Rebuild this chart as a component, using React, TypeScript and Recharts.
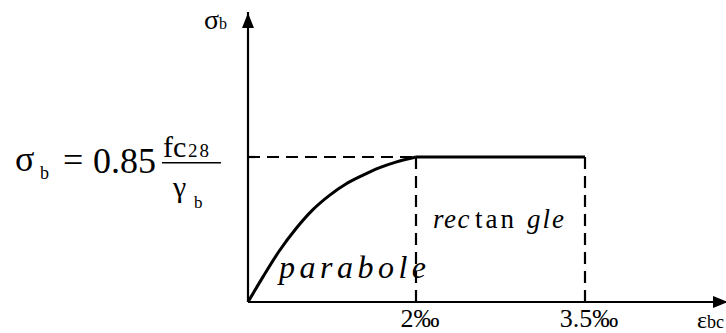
import React from 'react';
import { ComposedChart, Line, XAxis, YAxis } from 'recharts';

// Parabola-rectangle stress–strain diagram for concrete (BAEL)
// strain in ‰, stress as a fraction of 0.85·fc28/γb

const parabolaStrain = [0, 0.18, 0.37, 0.57, 0.77, 0.97, 1.17, 1.37, 1.56, 1.76, 2.0];
const parabolaStress = [0, 0.175, 0.35, 0.505, 0.635, 0.735, 0.815, 0.875, 0.925, 0.965, 1.0];

const plateauStrain = [2, 3.5];
const plateauStress = [1, 1];

const strainTicks = [2, 3.5];
const tickLabels = ['2‰', '3.5‰'];

const W = 726;
const H = 333;
const LEFT = 248;
const TOP = 12;
const XAXIS_H = 31;
const AXIS_Y = H - XAXIS_H;
const SERIF = 'Liberation Serif, Tinos, DejaVu Serif, Times New Roman, serif';

const parabolaData = parabolaStrain.map((e, i) => ({ e, s: parabolaStress[i] }));
const plateauData = plateauStrain.map((e, i) => ({ e, s: plateauStress[i] }));
const peakStrain = plateauStrain[0];
const ultimateStrain = plateauStrain[plateauStrain.length - 1];
const peakStress = plateauStress[0];

const peakGuideH = [{ e: 0, s: peakStress }, { e: peakStrain, s: peakStress }];
const peakGuideV = [{ e: peakStrain, s: peakStress }, { e: peakStrain, s: 0 }];
const ultimateGuideV = [{ e: ultimateStrain, s: peakStress }, { e: ultimateStrain, s: 0 }];

const serifStyle = { fontFamily: SERIF };

const StrainTick = (props: any) => {
  const { x, y, payload } = props;
  const idx = strainTicks.indexOf(payload.value);
  return (
    <text x={x + 4} y={y + 25} textAnchor="middle" style={serifStyle} fontSize={26} fill="#000">
      {tickLabels[idx]}
    </text>
  );
};

export default function App() {
  return (
    <div style={{ position: 'absolute', left: 0, top: 0, width: W, height: H, background: '#fff', fontFamily: SERIF }}>
      <ComposedChart width={W} height={H} margin={{ top: TOP, right: 0, bottom: 0, left: LEFT - 2 }}>
        <XAxis
          xAxisId="p"
          type="number"
          dataKey="e"
          orientation="top"
          height={0}
          domain={[0, 2]}
          padding={{ left: 0, right: 310 }}
          hide
        />
        <XAxis
          xAxisId="r"
          type="number"
          dataKey="e"
          domain={[2, 3.5]}
          ticks={strainTicks}
          padding={{ left: 168, right: 141 }}
          height={XAXIS_H}
          axisLine={{ stroke: '#000', strokeWidth: 2.2 }}
          tickLine={false}
          tickSize={0}
          tickMargin={0}
          tick={<StrainTick />}
          interval={0}
        />
        <YAxis
          type="number"
          domain={[0, 2]}
          width={2}
          tick={false}
          tickLine={false}
          axisLine={{ stroke: '#000', strokeWidth: 2.2 }}
        />

        <Line xAxisId="p" data={peakGuideH} dataKey="s" type="linear" stroke="#000" strokeWidth={2.2}
          strokeDasharray="12 7" dot={false} activeDot={false} isAnimationActive={false} />
        <Line xAxisId="r" data={peakGuideV} dataKey="s" type="linear" stroke="#000" strokeWidth={2.2}
          strokeDasharray="12 7" dot={false} activeDot={false} isAnimationActive={false} />
        <Line xAxisId="r" data={ultimateGuideV} dataKey="s" type="linear" stroke="#000" strokeWidth={2.2}
          strokeDasharray="12 7" dot={false} activeDot={false} isAnimationActive={false} />

        <Line xAxisId="p" data={parabolaData} dataKey="s" type="monotone" stroke="#000" strokeWidth={3}
          dot={false} activeDot={false} isAnimationActive={false} />
        <Line xAxisId="r" data={plateauData} dataKey="s" type="linear" stroke="#000" strokeWidth={3}
          dot={false} activeDot={false} isAnimationActive={false} />

        {/* axis arrowheads */}
        <polygon points={`${LEFT},${TOP + 1} ${LEFT - 6},${TOP + 16} ${LEFT + 6},${TOP + 16}`} fill="#000" />
        <polygon points={`${W + 2},${AXIS_Y} ${W - 13},${AXIS_Y - 6} ${W - 13},${AXIS_Y + 6}`} fill="#000" />

        {/* axis titles */}
        <text x={204} y={29} style={serifStyle} fill="#000">
          <tspan fontSize={28}>σ</tspan>
          <tspan fontSize={16}>b</tspan>
        </text>
        <text x={697} y={328} style={serifStyle} fill="#000">
          <tspan fontSize={24}>ε</tspan>
          <tspan fontSize={18}>bc</tspan>
        </text>

        {/* design strength */}
        <g style={serifStyle} fill="#000">
          <text x={15} y={171} fontSize={36}>σ</text>
          <text x={40} y={179} fontSize={18}>b</text>
          <text x={63} y={172} fontSize={36}>=</text>
          <text x={93} y={173} fontSize={36}>0.85</text>
          <text x={163} y={157} fontSize={30}>fc</text>
          <text x={188} y={157} fontSize={19} letterSpacing={2}>28</text>
          <line x1={162} x2={221} y1={162.7} y2={162.7} stroke="#000" strokeWidth={1.5} />
          <text x={173} y={197} fontSize={30}>γ</text>
          <text x={194} y={208} fontSize={17}>b</text>
        </g>

        {/* branch labels */}
        <text x={279} y={278} style={serifStyle} fontSize={32} fontStyle="italic" letterSpacing={4.5} fill="#000">
          parabole
        </text>
        <text y={228} style={serifStyle} fontSize={27} fill="#000">
          <tspan x={433} fontStyle="italic" letterSpacing={1.5}>rec</tspan>
          <tspan x={475} letterSpacing={3}>tan</tspan>
          <tspan x={527} fontStyle="italic" letterSpacing={2}>gle</tspan>
        </text>
      </ComposedChart>
    </div>
  );
}
